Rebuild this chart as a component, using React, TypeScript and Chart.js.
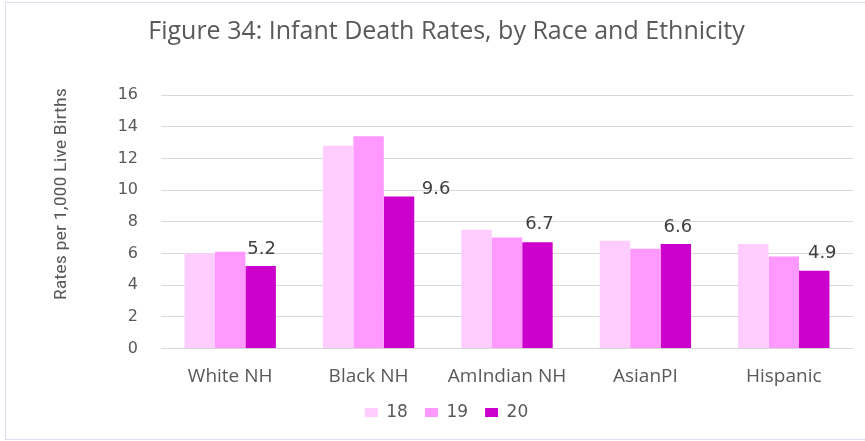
import { useEffect, useRef } from "react";
import { Chart, registerables } from "chart.js";

Chart.register(...registerables);

const categories = ["White NH", "Black NH", "AmIndian NH", "AsianPI", "Hispanic"];
const seriesNames = ["18", "19", "20"];
const values18 = [6.0, 12.8, 7.5, 6.8, 6.6];
const values19 = [6.1, 13.4, 7.0, 6.3, 5.8];
const values20 = [5.2, 9.6, 6.7, 6.6, 4.9];
const yMin = 0;
const yMax = 16;
const yStep = 2;
const titleText = "Figure 34: Infant Death Rates, by Race and Ethnicity";
const yTitleText = "Rates per 1,000 Live Births";
const colors = ["#FFCCFF", "#FF99FF", "#CC00CC"];

const labelPlugin = {
  id: "customLabels",
  afterDatasetsDraw(chart: any) {
    const ctx = chart.ctx;
    const meta = chart.getDatasetMeta(2);
    const dx = [1, 37, 2, 2, 8];
    const dy = [12, 2, 13, 12, 13];
    ctx.save();
    ctx.font = "18px 'DejaVu Sans'";
    ctx.fillStyle = "#404040";
    ctx.textAlign = "center";
    ctx.textBaseline = "alphabetic";
    meta.data.forEach((bar: any, i: number) => {
      const v = values20[i];
      ctx.fillText(v.toFixed(1), bar.x + dx[i], bar.y - dy[i]);
    });
    ctx.restore();

    // y axis title
    ctx.save();
    ctx.translate(62, 194);
    ctx.rotate(-Math.PI / 2);
    ctx.font = "16px 'Liberation Sans Narrow', 'Roboto Condensed', 'DejaVu Sans Condensed', sans-serif";
    const w = ctx.measureText(yTitleText).width;
    ctx.scale(212 / w, 1);
    ctx.fillStyle = "#595959";
    ctx.textAlign = "center";
    ctx.textBaseline = "middle";
    ctx.fillText(yTitleText, 0, 0);
    ctx.restore();
  },
};

export default function App() {
  const ref = useRef<HTMLCanvasElement>(null);
  useEffect(() => {
    if (!ref.current) return;
    const chart = new Chart(ref.current, {
      type: "bar",
      data: {
        labels: categories,
        datasets: [values18, values19, values20].map((vals, i) => ({
          label: seriesNames[i],
          data: vals,
          backgroundColor: colors[i],
          borderWidth: 0,
          categoryPercentage: 0.66,
          barPercentage: 1.0,
        })),
      },
      options: {
        animation: false,
        responsive: false,
        devicePixelRatio: 1,
        layout: { padding: { left: 40, right: 12, top: 0, bottom: 10 } },
        plugins: {
          title: {
            display: true,
            text: titleText,
            color: "#595959",
            font: { family: "'Open Sans'", size: 25, weight: "normal" },
            padding: { top: 17, bottom: 48 },
          },
          legend: {
            position: "bottom",
            labels: {
              boxWidth: 13,
              boxHeight: 9,
              padding: 17,
              color: "#595959",
              font: { family: "'DejaVu Sans'", size: 17 },
            },
          },
          tooltip: { enabled: false },
        },
        scales: {
          x: {
            grid: { display: false, drawTicks: false },
            border: { display: false },
            ticks: {
              color: "#595959",
              padding: 17,
              font: { family: "'Open Sans'", size: 19 },
            },
            afterFit: (s: any) => {
              s.height = 38.5;
            },
          },
          y: {
            min: yMin,
            max: yMax,
            grid: { color: "#D9D9D9", drawTicks: false, lineWidth: 1 },
            border: { display: false },
            ticks: {
              stepSize: yStep,
              color: "#595959",
              padding: 23,
              font: { family: "'DejaVu Sans'", size: 16 },
            },
            afterFit: (s: any) => {
              s.width = 121;
            },
          },
        },
      },
      plugins: [labelPlugin],
    });
    return () => chart.destroy();
  }, []);

  return (
    <div
      style={{
        position: "fixed",
        left: 0,
        top: 0,
        width: 865,
        height: 441,
        overflow: "hidden",
        background: "#fff",
      }}
    >
      <canvas ref={ref} width={865} height={441} style={{ position: "absolute", left: 0, top: 0 }} />
      <div
        style={{
          position: "absolute",
          left: 5,
          top: 2,
          width: 900,
          height: 436,
          border: "1px solid #D9E1EE",
          pointerEvents: "none",
        }}
      />
    </div>
  );
}
